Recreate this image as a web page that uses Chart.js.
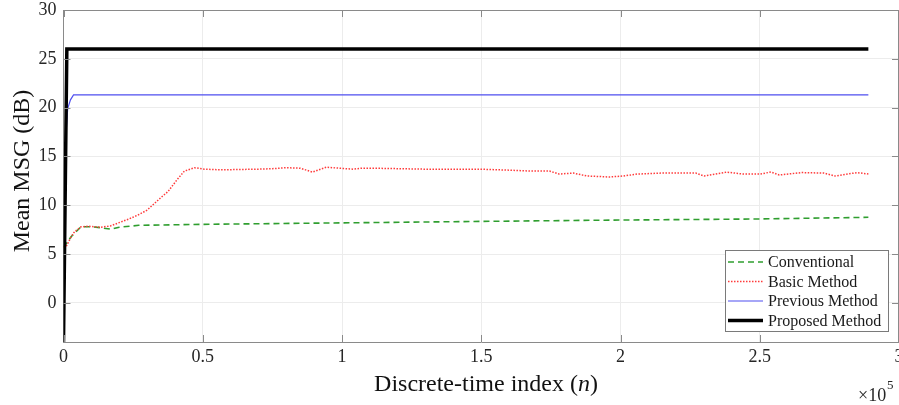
<!DOCTYPE html>
<html>
<head>
<meta charset="utf-8">
<script src="https://cdn.jsdelivr.net/npm/chart.js@4.4.1/dist/chart.umd.min.js"></script>
<style>
html,body{margin:0;padding:0;background:#fff;overflow:hidden;}
canvas{display:block;}
</style>
</head>
<body>
<canvas id="c" width="899" height="405"></canvas>
<script>
// ---- data (x = discrete-time index n, y = mean MSG in dB) ----
const seriesNames = ["Conventional", "Basic Method", "Previous Method", "Proposed Method"];

const convN = [0, 2800, 6300, 10000, 13500, 17000, 20000, 27000, 50000, 100000, 150000, 192000, 250000, 289000];
const convY = [5.7, 6.8, 7.8, 7.8, 7.7, 7.55, 7.75, 7.95, 8.05, 8.2, 8.35, 8.47, 8.6, 8.77];

const basicN = [0, 1000, 2800, 4000, 6300, 9000, 13500, 17000, 20700, 23500, 26700, 30000, 32700, 35000, 37500, 41000, 43400, 47000, 50600, 55000, 60000, 70000, 75000, 80000, 85000, 89400, 94400, 99000, 104000, 107000, 111000, 120000, 130000, 140000, 149000, 160000, 168000, 174500, 178000, 183000, 188000, 196000, 201000, 206000, 215000, 222000, 227000, 230000, 238000, 244000, 250000, 254000, 257000, 265000, 273000, 277000, 285000, 289000];
const basicY = [5.7, 5.8, 6.8, 7.3, 7.8, 7.85, 7.75, 7.9, 8.3, 8.6, 9.0, 9.5, 10.2, 10.8, 11.4, 12.7, 13.5, 13.85, 13.7, 13.65, 13.65, 13.7, 13.75, 13.85, 13.8, 13.4, 13.9, 13.8, 13.7, 13.8, 13.8, 13.75, 13.7, 13.7, 13.7, 13.6, 13.5, 13.5, 13.2, 13.3, 13.0, 12.9, 13.0, 13.2, 13.3, 13.3, 13.3, 13.0, 13.4, 13.2, 13.2, 13.4, 13.1, 13.35, 13.3, 13.0, 13.35, 13.2];

const prevN = [700, 1500, 2500, 3600, 289000];
const prevY = [16.5, 19.9, 20.8, 21.3, 21.3];

const propN = [0, 1200, 289000];
const propY = [-4, 26, 26];

const xTicks = [0, 50000, 100000, 150000, 200000, 250000, 300000];
const yTicks = [0, 5, 10, 15, 20, 25, 30];
const yMin = -4, yMax = 30;

const pts = (xs, ys) => xs.map((x, i) => ({x: x, y: ys[i]}));

const styles = [
  {color: '#2f9e2f', width: 1.6, dash: [6, 4]},
  {color: '#ff3b3b', width: 1.5, dash: [1.5, 1.5]},
  {color: '#4f4fef', width: 1.2, dash: []},
  {color: '#000000', width: 3.5, dash: []}
];

const SERIF = "'Liberation Serif', 'Times New Roman', serif";

const decor = {
  id: 'decor',
  afterDatasetsDraw(chart) {
    const ctx = chart.ctx, a = chart.chartArea;
    const xs = chart.scales.x, ys = chart.scales.y;
    ctx.save();
    // box top/right
    ctx.strokeStyle = '#8a8a8a';
    ctx.lineWidth = 1;
    ctx.beginPath();
    ctx.moveTo(a.left, a.top + 0.5); ctx.lineTo(a.right, a.top + 0.5);
    ctx.moveTo(a.right - 0.5, a.top); ctx.lineTo(a.right - 0.5, a.bottom);
    ctx.stroke();
    // inward ticks
    ctx.beginPath();
    xTicks.forEach(v => {
      const px = Math.round(xs.getPixelForValue(v)) + 0.5;
      ctx.moveTo(px, a.bottom); ctx.lineTo(px, a.bottom - 7);
      ctx.moveTo(px, a.top); ctx.lineTo(px, a.top + 7);
    });
    yTicks.forEach(v => {
      const py = Math.round(ys.getPixelForValue(v)) + 0.5;
      ctx.moveTo(a.left, py); ctx.lineTo(a.left + 7, py);
      ctx.moveTo(a.right, py); ctx.lineTo(a.right - 7, py);
    });
    ctx.stroke();

    // legend
    const lx = 725.5, ly = 250.5, lw = 163, lh = 81;
    ctx.fillStyle = '#fff';
    ctx.fillRect(lx, ly, lw, lh);
    ctx.strokeStyle = '#7a7a7a';
    ctx.strokeRect(lx, ly, lw, lh);
    ctx.font = '16px ' + SERIF;
    ctx.textBaseline = 'middle';
    ctx.textAlign = 'left';
    seriesNames.forEach((name, i) => {
      const cy = 262 + i * 19.5;
      const s = styles[i];
      ctx.strokeStyle = s.color;
      ctx.lineWidth = s.width;
      ctx.setLineDash(s.dash);
      ctx.beginPath();
      ctx.moveTo(728, cy); ctx.lineTo(763, cy);
      ctx.stroke();
      ctx.setLineDash([]);
      ctx.fillStyle = '#1a1a1a';
      ctx.fillText(name, 768, cy + 1);
    });

    // axis titles
    ctx.fillStyle = '#111';
    ctx.font = '24px ' + SERIF;
    ctx.textBaseline = 'middle';
    const p1 = 'Discrete-time index (', p2 = 'n', p3 = ')';
    const w1 = ctx.measureText(p1).width, w3 = ctx.measureText(p3).width;
    ctx.font = 'italic 24px ' + SERIF;
    const w2 = ctx.measureText(p2).width;
    let sx = 486 - (w1 + w2 + w3) / 2;
    ctx.font = '24px ' + SERIF;
    ctx.fillText(p1, sx, 385);
    ctx.font = 'italic 24px ' + SERIF;
    ctx.fillText(p2, sx + w1, 385);
    ctx.font = '24px ' + SERIF;
    ctx.fillText(p3, sx + w1 + w2, 385);

    ctx.save();
    ctx.translate(23, 171);
    ctx.rotate(-Math.PI / 2);
    ctx.textAlign = 'center';
    ctx.fillText('Mean MSG (dB)', 0, 0);
    ctx.restore();

    // exponent
    ctx.fillStyle = '#262626';
    ctx.textAlign = 'left';
    ctx.textBaseline = 'alphabetic';
    ctx.font = '18px ' + SERIF;
    ctx.fillText('\u00d710', 858, 401);
    ctx.font = '13px ' + SERIF;
    ctx.fillText('5', 887, 389);
    ctx.restore();
  }
};

new Chart(document.getElementById('c'), {
  type: 'line',
  data: {
    datasets: [
      {label: seriesNames[3], data: pts(propN, propY), borderColor: styles[3].color, borderWidth: styles[3].width, order: 0},
      {label: seriesNames[2], data: pts(prevN, prevY), borderColor: styles[2].color, borderWidth: styles[2].width, order: 1},
      {label: seriesNames[1], data: pts(basicN, basicY), borderColor: styles[1].color, borderWidth: styles[1].width, borderDash: styles[1].dash, order: 2},
      {label: seriesNames[0], data: pts(convN, convY), borderColor: styles[0].color, borderWidth: styles[0].width, borderDash: styles[0].dash, order: 3}
    ]
  },
  options: {
    responsive: false,
    maintainAspectRatio: false,
    devicePixelRatio: 1,
    animation: false,
    events: [],
    elements: {point: {radius: 0}, line: {tension: 0, fill: false}},
    layout: {padding: {top: 10, left: 0, right: 0, bottom: 0}},
    plugins: {legend: {display: false}, tooltip: {enabled: false}, title: {display: false}},
    scales: {
      x: {
        type: 'linear',
        min: 0, max: 300000,
        afterBuildTicks: s => { s.ticks = xTicks.map(v => ({value: v})); },
        afterFit: s => { s.height = 63; s.paddingLeft = 0; s.paddingRight = 0; },
        ticks: {
          font: {family: SERIF, size: 18},
          color: '#262626',
          padding: 4,
          maxRotation: 0,
          callback: v => String(v / 100000)
        },
        grid: {color: '#ececec', lineWidth: 1, drawTicks: false},
        border: {color: '#8a8a8a', width: 1}
      },
      y: {
        min: yMin, max: yMax,
        afterBuildTicks: s => { s.ticks = yTicks.map(v => ({value: v})); },
        afterFit: s => { s.width = 63.5; s.paddingTop = 0; s.paddingBottom = 0; },
        ticks: {
          font: {family: SERIF, size: 18},
          color: '#262626',
          padding: 7
        },
        grid: {color: '#ececec', lineWidth: 1, drawTicks: false},
        border: {color: '#8a8a8a', width: 1}
      }
    }
  },
  plugins: [decor]
});
</script>
</body>
</html>
